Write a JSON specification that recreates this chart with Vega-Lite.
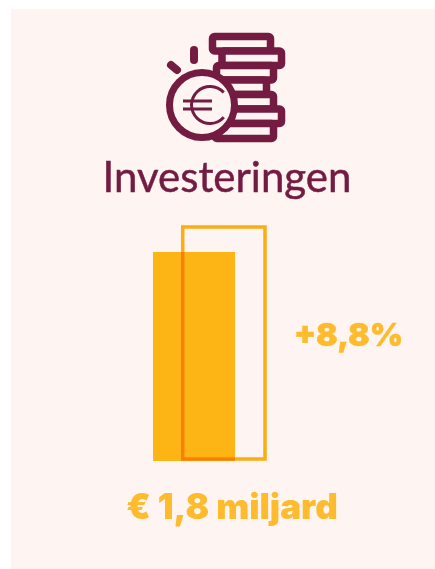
{"$schema":"https://vega.github.io/schema/vega-lite/v6.json","autosize":{"type":"fit","contains":"padding"},"width":435,"height":569,"padding":0,"background":"white","config":{"view":{"stroke":null}},
"datasets":{
"coins":[{"a":212.5,"b":270.5,"t":36.5,"u":51},{"a":222,"b":281.5,"t":51,"u":65.5},{"a":216.5,"b":273.5,"t":65.5,"u":80},{"a":215,"b":266.5,"t":80,"u":94.5},{"a":215,"b":273.5,"t":94.5,"u":109},{"a":215,"b":281.5,"t":109,"u":123.5},{"a":215,"b":273.5,"t":123.5,"u":138.5}],
"bars":[{"name":"vorig jaar","a":153,"b":235,"value":1.8,"base":0},{"name":"groei","a":182.7,"b":265,"value":2.015,"base":0.017}]
},
"encoding":{"x":{"field":"a","type":"quantitative","scale":{"domain":[0,435]},"axis":null},"y":{"field":"t","type":"quantitative","scale":{"domain":[0,569],"reverse":false,"range":[0,569]},"axis":null}},
"layer":[
{"data":{"values":[{"a":11,"b":435,"t":9,"u":569}]},"mark":{"type":"rect","color":"#fef4f1"},"encoding":{"x2":{"field":"b"},"y2":{"field":"u"}}},
{"data":{"name":"coins"},"mark":{"type":"rect","fill":"#fef4f1","stroke":"#731b41","strokeWidth":7.5,"cornerRadius":2},"encoding":{"x2":{"field":"b"},"y2":{"field":"u"}}},
{"data":{"values":[{"a":194,"t":50,"u":60},{"a":171,"t":65,"u":70,"b":177}]},"mark":{"type":"rule","stroke":"#731b41","strokeWidth":8,"strokeCap":"round"},"encoding":{"x2":{"field":"b"},"y2":{"field":"u"}}},
{"data":{"values":[{"a":202,"t":105}]},"mark":{"type":"point","filled":true,"shape":"circle","fill":"#fef4f1","stroke":"#731b41","strokeWidth":7,"size":4225,"opacity":1}},
{"data":{"values":[{"a":210,"t":105}]},"mark":{"type":"arc","innerRadius":17,"outerRadius":20,"theta":2.3,"theta2":7.12,"fill":"#731b41"}},
{"data":{"values":[{"a":183,"b":212,"t":101},{"a":183,"b":212,"t":109}]},"mark":{"type":"rule","stroke":"#731b41","strokeWidth":3},"encoding":{"x2":{"field":"b"},"y2":{"field":"t"}}},
{"data":{"values":[{"a":227,"t":192,"label":"Investeringen"}]},"mark":{"type":"text","font":"Lato","fontSize":42,"fontWeight":400,"color":"#731b41","stroke":"#731b41","strokeWidth":0.5,"baseline":"alphabetic","align":"center"},"encoding":{"text":{"field":"label"}}},
{"data":{"name":"bars"},"transform":[{"filter":"datum.name=='vorig jaar'"}],"mark":{"type":"rect","color":"#fdb515"},"encoding":{"x2":{"field":"b"},"y":{"field":"value","type":"quantitative","scale":{"domain":[-0.93,3.97],"range":[569,0]},"axis":null},"y2":{"field":"base"}}},
{"data":{"name":"bars"},"transform":[{"filter":"datum.name=='groei'"}],"mark":{"type":"rect","fill":null,"stroke":"#fdb515","strokeWidth":3.5,"blend":"multiply"},"encoding":{"x2":{"field":"b"},"y":{"field":"value","type":"quantitative","scale":{"domain":[-0.93,3.97],"range":[569,0]},"axis":null},"y2":{"field":"base"}}},
{"data":{"values":[{"a":348.5,"t":346,"label":"+8,8%"}]},"mark":{"type":"text","font":"Inter","fontSize":32,"fontWeight":900,"color":"#fdbb2d","stroke":"#fdbb2d","strokeWidth":0.5,"baseline":"alphabetic","align":"center"},"encoding":{"text":{"field":"label"}}},
{"data":{"values":[{"a":232,"t":519,"label":"€ 1,8 miljard"}]},"mark":{"type":"text","font":"Inter","fontSize":35,"fontWeight":900,"color":"#fdbb2d","baseline":"alphabetic","align":"center"},"encoding":{"text":{"field":"label"}}}
],
"resolve":{"scale":{"y":"independent"}}}
